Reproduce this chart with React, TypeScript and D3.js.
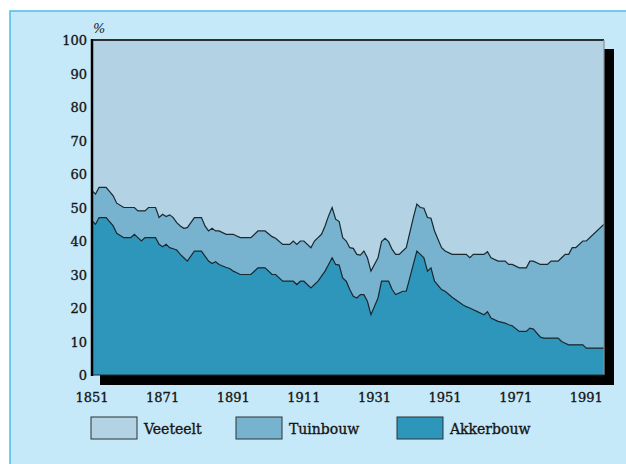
import React from "react";
import * as d3 from "d3";

// jaartallen en aandelen (%)
const years = [
  1851, 1852, 1853, 1855, 1857, 1858, 1860, 1862, 1863, 1864, 1865, 1866, 1867, 1869,
  1870, 1871, 1872, 1873, 1874, 1875, 1876, 1877, 1878, 1880, 1882, 1883, 1884, 1885,
  1886, 1887, 1889, 1890, 1891, 1892, 1893, 1896, 1898, 1900, 1902, 1903, 1905, 1907,
  1908, 1909, 1910, 1911, 1913, 1914, 1915, 1916, 1917, 1918, 1919, 1920, 1921, 1922,
  1923, 1924, 1925, 1926, 1927, 1928, 1929, 1930, 1932, 1933, 1934, 1935, 1936, 1937,
  1938, 1939, 1940, 1941, 1942, 1943, 1944, 1945, 1946, 1947, 1948, 1950, 1951, 1953,
  1956, 1957, 1958, 1959, 1960, 1962, 1963, 1964, 1966, 1968, 1969, 1970, 1972, 1974,
  1975, 1976, 1978, 1979, 1980, 1981, 1983, 1984, 1985, 1986, 1987, 1988, 1990, 1991,
  1996,
];

const akkerbouw = [
  46, 45, 47, 47, 44.5, 42.3, 41, 41, 42, 41, 40, 41, 41, 41,
  39, 38.3, 39, 38, 37.7, 37.3, 36, 35, 34, 37, 37, 35.5, 34, 33.3,
  33.8, 33, 32.1, 31.8, 31, 30.5, 30, 30, 32, 32, 30, 30, 28, 28,
  28, 27, 28, 28, 26, 27, 28, 29.5, 31, 33, 35, 33, 32.8, 29,
  28, 25.5, 23.5, 23, 24, 24, 22, 18, 23, 28, 28, 28, 25.5, 24,
  24.5, 25, 25, 29, 33, 37, 36, 35, 31, 32, 28, 25.5, 25, 23.2,
  21, 20.4, 20, 19.5, 19, 18, 18.9, 17, 16, 15.5, 15, 14.7, 13, 13,
  14, 13.7, 11.3, 11, 11, 11, 11, 10, 9.5, 9, 9, 9, 9, 8,
  8,
];

// bovengrens akkerbouw + tuinbouw
const akkerTuin = [
  55, 54, 56, 56, 53.5, 51.3, 50, 50, 50, 49, 49, 49, 50, 50,
  47, 48, 47.3, 47.8, 47, 45.5, 44.5, 43.8, 44, 47, 47, 44.5, 43, 43.8,
  43, 43, 42, 42, 42, 41.5, 41, 41, 43, 43, 41.3, 40.8, 39, 39,
  40, 39, 40, 40, 38, 40, 41, 42, 44.5, 47.5, 50, 46.5, 45.8, 41,
  40, 38, 37.8, 36, 35.8, 37, 35, 31, 35, 39.8, 40.8, 39.8, 37.5, 36,
  36, 37, 38, 42.5, 47, 51, 50, 49.8, 47, 46.8, 43, 38, 37, 36,
  36, 36, 35, 36, 36, 36, 36.8, 35, 34, 34, 33, 33, 32, 32,
  34, 34, 33, 33, 33, 34, 34, 35, 36, 36, 38, 38, 40, 40,
  45,
];

const keys = ["Akkerbouw", "Tuinbouw", "Veeteelt"];
const legendLabels = ["Veeteelt", "Tuinbouw", "Akkerbouw"];
const xTicks = [1851, 1871, 1891, 1911, 1931, 1951, 1971, 1991];
const yTicks = [0, 10, 20, 30, 40, 50, 60, 70, 80, 90, 100];

const colors: Record<string, string> = {
  Veeteelt: "#b3d3e4",
  Tuinbouw: "#77b3cf",
  Akkerbouw: "#2e96ba",
};

const W = 626;
const H = 464;
const plot = { left: 92, right: 604, top: 40, bottom: 375 };
const font = "'DejaVu Serif', serif";
const ink = "#161616";

export default function App() {
  const rows = years.map((yr, i) => ({
    year: yr,
    Akkerbouw: akkerbouw[i],
    Tuinbouw: akkerTuin[i] - akkerbouw[i],
    Veeteelt: 100 - akkerTuin[i],
  }));

  const x = d3.scaleLinear().domain([1851, 1996]).range([plot.left, plot.right]);
  const y = d3.scaleLinear().domain([0, 100]).range([plot.bottom, plot.top]);

  const series = d3.stack<any>().keys(keys)(rows);

  const area = d3
    .area<any>()
    .x((d) => x(d.data.year))
    .y0((d) => y(d[0]))
    .y1((d) => y(d[1]));

  const line = d3
    .line<any>()
    .x((d) => x(d.data.year))
    .y((d) => y(d[1]));

  const pw = plot.right - plot.left;
  const ph = plot.bottom - plot.top;

  // legenda
  const legendX = [91, 236, 397];

  const txt = { fontFamily: font, fill: ink, stroke: ink, strokeWidth: 0.35 };

  return (
    <svg width={W} height={H} style={{ position: "absolute", left: 0, top: 0 }}>
      <rect x={0} y={0} width={W} height={H} fill="#ffffff" />
      <rect x={10} y={11} width={W + 10} height={H + 10} fill="#c6e9f9" stroke="#4cbde9" strokeWidth={1.5} />

      {/* schaduw */}
      <rect x={plot.left + 8} y={plot.top + 9} width={pw + 2} height={ph + 1} fill="#000" />

      {series.map((s) => (
        <path key={s.key} d={area(s) ?? ""} fill={colors[s.key]} />
      ))}
      {series.slice(0, 2).map((s) => (
        <path key={"l" + s.key} d={line(s) ?? ""} fill="none" stroke="#1b2a32" strokeWidth={1.2} />
      ))}

      {/* kader */}
      <line x1={plot.left} x2={plot.right} y1={plot.top} y2={plot.top} stroke="#2b3033" strokeWidth={2} />
      <line x1={plot.right} x2={plot.right} y1={plot.top} y2={plot.bottom} stroke="#8a9296" strokeWidth={1.2} />
      <line x1={plot.left} x2={plot.right} y1={plot.bottom} y2={plot.bottom} stroke="#1f2a30" strokeWidth={1} />
      <line x1={plot.left} x2={plot.left} y1={plot.top - 1} y2={plot.bottom + 1} stroke="#000" strokeWidth={2.5} />

      {yTicks.map((t) => (
        <text key={t} x={87} y={y(t)} dy="0.4em" textAnchor="end" fontSize={13} {...txt}>
          {t}
        </text>
      ))}
      <text x={93} y={33} fontSize={13} fontStyle="italic" fontFamily={font} fill={ink}>
        %
      </text>

      {xTicks.map((t) => (
        <text key={t} x={x(t)} y={402} textAnchor="middle" fontSize={13} {...txt}>
          {t}
        </text>
      ))}

      {legendLabels.map((k, i) => (
        <g key={k}>
          <rect x={legendX[i]} y={417} width={46} height={22} fill={colors[k]} stroke="#2a3338" strokeWidth={1} />
          <text x={legendX[i] + 53} y={434} fontSize={14} {...txt}>
            {k}
          </text>
        </g>
      ))}
    </svg>
  );
}
